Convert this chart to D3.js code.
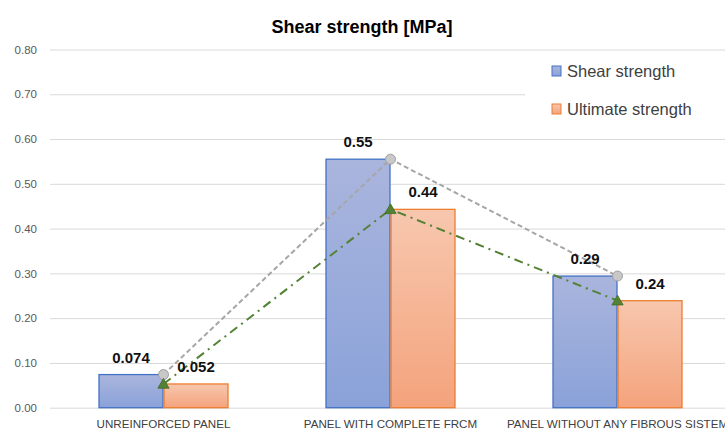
<!DOCTYPE html>
<html>
<head>
<meta charset="utf-8">
<script src="https://cdn.jsdelivr.net/npm/d3@7"></script>
<style>
  body { margin: 0; background: #fff; }
  svg { display: block; font-family: "Liberation Sans", Arial, sans-serif; }
</style>
</head>
<body>
<svg id="chart" width="725" height="430"></svg>
<script>
// Shear strength bar chart

var categories = ["UNREINFORCED PANEL", "PANEL WITH COMPLETE FRCM", "PANEL WITHOUT ANY FIBROUS SISTEM"];
var seriesNames = ["Shear strength", "Ultimate strength"];
var shearValues = [0.074, 0.555, 0.294];
var ultimateValues = [0.053, 0.443, 0.239];
var shearLabels = ["0.074", "0.55", "0.29"];
var ultimateLabels = ["0.052", "0.44", "0.24"];
var yTicks = [0, 0.1, 0.2, 0.3, 0.4, 0.5, 0.6, 0.7, 0.8];

var svg = d3.select("#chart");

var x = d3.scaleBand()
  .domain(categories)
  .range([50, 731])
  .paddingInner(97 / 227)
  .paddingOuter(97 / 454);

var xSub = d3.scaleBand()
  .domain(seriesNames)
  .range([0, x.bandwidth()]);

var y = d3.scaleLinear()
  .domain([0, 0.8])
  .range([407.7, 49.5]);

var center = function (c) { return x(c) + x.bandwidth() / 2; };

///////////////////////////////////////////////////////////////////////////////
// Gradients

var defs = svg.append("defs");
var addGradient = function (id, top, bottom) {
  var g = defs.append("linearGradient")
    .attr("id", id)
    .attr("x1", 0).attr("y1", 0).attr("x2", 0).attr("y2", 1);
  g.append("stop").attr("offset", "0%").attr("stop-color", top);
  g.append("stop").attr("offset", "100%").attr("stop-color", bottom);
};
addGradient("gradBlue", "#aab5dd", "#8aa2d9");
addGradient("gradOrange", "#f7c7ae", "#f4a37c");

///////////////////////////////////////////////////////////////////////////////
// Title, grid, axes

svg.append("text")
  .attr("x", 362)
  .attr("y", 33)
  .attr("text-anchor", "middle")
  .attr("font-size", "18px")
  .attr("font-weight", "bold")
  .attr("fill", "#000")
  .text("Shear strength [MPa]");

var yAxis = d3.axisLeft(y)
  .tickValues(yTicks)
  .tickFormat(d3.format(".2f"))
  .tickSize(-681)
  .tickPadding(13);

svg.append("g")
  .attr("transform", "translate(50,0)")
  .call(yAxis)
  .call(function (g) {
    g.select(".domain").remove();
    g.selectAll(".tick line").attr("stroke", "#d9d9d9").attr("stroke-width", 1);
    g.selectAll(".tick text")
      .attr("fill", "#595959")
      .attr("font-size", "11.5px")
      .attr("font-family", "Liberation Sans, Arial, sans-serif");
  });

var xAxis = d3.axisBottom(x).tickSize(0).tickPadding(12);

svg.append("g")
  .attr("transform", "translate(0," + y(0) + ")")
  .call(xAxis)
  .call(function (g) {
    g.select(".domain").remove();
    g.selectAll(".tick text")
      .attr("fill", "#404040")
      .attr("font-size", "11.6px")
      .attr("font-family", "Liberation Sans, Arial, sans-serif");
  });

///////////////////////////////////////////////////////////////////////////////
// Bars

var drawBars = function (values, name, fill, stroke) {
  svg.append("g").selectAll("rect")
    .data(values)
    .join("rect")
    .attr("x", function (d, i) { return x(categories[i]) + xSub(name) + 0.5; })
    .attr("y", function (d) { return y(d); })
    .attr("width", xSub.bandwidth() - 1)
    .attr("height", function (d) { return y(0) - y(d); })
    .attr("fill", fill)
    .attr("stroke", stroke)
    .attr("stroke-width", 1.3);
};
drawBars(shearValues, seriesNames[0], "url(#gradBlue)", "#4472c4");
drawBars(ultimateValues, seriesNames[1], "url(#gradOrange)", "#ed7d31");

///////////////////////////////////////////////////////////////////////////////
// Lines over the bars

var line = d3.line()
  .x(function (d, i) { return center(categories[i]); })
  .y(function (d) { return y(d); });

svg.append("path")
  .datum(shearValues)
  .attr("d", line)
  .attr("fill", "none")
  .attr("stroke", "#a6a6a6")
  .attr("stroke-width", 2)
  .attr("stroke-dasharray", "5,3");

svg.append("path")
  .datum(ultimateValues)
  .attr("d", line)
  .attr("fill", "none")
  .attr("stroke", "#548235")
  .attr("stroke-width", 2)
  .attr("stroke-dasharray", "9,5,2,5");

svg.append("g").selectAll("circle")
  .data(shearValues)
  .join("circle")
  .attr("cx", function (d, i) { return center(categories[i]); })
  .attr("cy", function (d) { return y(d); })
  .attr("r", 5)
  .attr("fill", "#c8c8c8")
  .attr("stroke", "#a0a0a0")
  .attr("stroke-width", 1);

var tri = d3.symbol().type(d3.symbolTriangle).size(55);
svg.append("g").selectAll("path")
  .data(ultimateValues)
  .join("path")
  .attr("d", tri)
  .attr("transform", function (d, i) {
    return "translate(" + center(categories[i]) + "," + (y(d) + 1) + ")";
  })
  .attr("fill", "#548235")
  .attr("stroke", "#3f6a24")
  .attr("stroke-width", 0.8);

///////////////////////////////////////////////////////////////////////////////
// Data labels

var drawLabels = function (values, labels, name) {
  svg.append("g").selectAll("text")
    .data(values)
    .join("text")
    .attr("x", function (d, i) { return x(categories[i]) + xSub(name) + xSub.bandwidth() / 2; })
    .attr("y", function (d) { return y(d) - 12; })
    .attr("text-anchor", "middle")
    .attr("font-size", "15px")
    .attr("font-weight", "bold")
    .attr("fill", "#111")
    .text(function (d, i) { return labels[i]; });
};
drawLabels(shearValues, shearLabels, seriesNames[0]);
drawLabels(ultimateValues, ultimateLabels, seriesNames[1]);

///////////////////////////////////////////////////////////////////////////////
// Legend

var legend = svg.append("g");
legend.append("rect")
  .attr("x", 525).attr("y", 56)
  .attr("width", 200).attr("height", 72)
  .attr("fill", "#fff");

var legendColors = [["url(#gradBlue)", "#4472c4"], ["url(#gradOrange)", "#ed7d31"]];
var items = legend.selectAll("g.item")
  .data(seriesNames)
  .join("g")
  .attr("class", "item")
  .attr("transform", function (d, i) { return "translate(552," + (66 + i * 38) + ")"; });

items.append("rect")
  .attr("width", 9).attr("height", 10)
  .attr("fill", function (d, i) { return legendColors[i][0]; })
  .attr("stroke", function (d, i) { return legendColors[i][1]; })
  .attr("stroke-width", 1);

items.append("text")
  .attr("x", 15)
  .attr("y", 11)
  .attr("font-size", "16.5px")
  .attr("fill", "#404040")
  .text(function (d) { return d; });
</script>
</body>
</html>
